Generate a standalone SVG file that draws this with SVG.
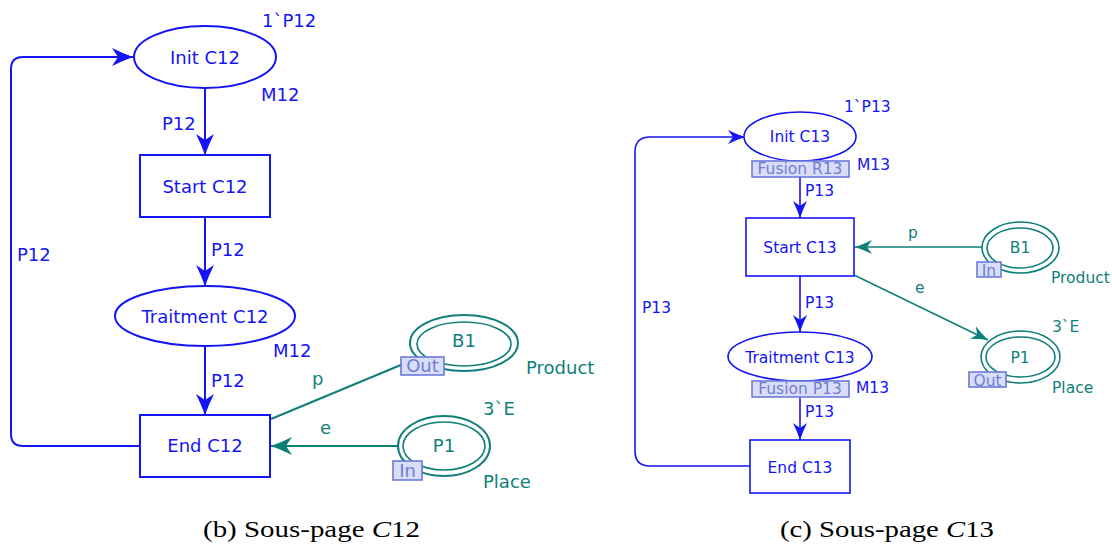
<svg xmlns="http://www.w3.org/2000/svg" width="1112" height="545" viewBox="0 0 1112 545">
<style>
.b{fill:none;stroke:#1414f5;stroke-width:2}
.b2{fill:none;stroke:#1414f5;stroke-width:1.6}
.t{fill:none;stroke:#0f7f7a;stroke-width:2}
.t2{fill:none;stroke:#0f7f7a;stroke-width:1.5}
.bn{fill:#fff;stroke:#1414f5;stroke-width:2}
.bn2{fill:#fff;stroke:#1414f5;stroke-width:1.6}
.pl{fill:#fff;stroke:#0f7f7a;stroke-width:2}
.pl2{fill:none;stroke:#0f7f7a;stroke-width:1.6}
.tag{fill:#d9ddf8;stroke:#6b7bd9;stroke-width:1.6}
text{font-family:"DejaVu Sans",Verdana,sans-serif}
.L{font-size:18px}
.R{font-size:15.5px}
.bt{fill:#1414f5}
.tt{fill:#0f7f7a}
.gt{fill:#6f7fd6}
.m{text-anchor:middle}
.cap{font-family:"Liberation Serif","Times New Roman",serif;font-size:23.5px;fill:#000}
</style>
<defs>
<marker id="ab" markerUnits="userSpaceOnUse" markerWidth="22" markerHeight="20" viewBox="0 0 22 20" refX="21" refY="10" orient="auto">
<path d="M21,10 Q10,6 0,1 L6,10 L0,19 Q10,14 21,10 Z" fill="#1414f5"/>
</marker>
<marker id="ab2" markerUnits="userSpaceOnUse" markerWidth="18" markerHeight="16" viewBox="0 0 18 16" refX="17" refY="8" orient="auto">
<path d="M17,8 Q8,5 0,1 L5,8 L0,15 Q8,11 17,8 Z" fill="#1414f5"/>
</marker>
<marker id="at" markerUnits="userSpaceOnUse" markerWidth="22" markerHeight="20" viewBox="0 0 22 20" refX="21" refY="10" orient="auto">
<path d="M21,10 Q10,6 0,1 L6,10 L0,19 Q10,14 21,10 Z" fill="#0f7f7a"/>
</marker>
<marker id="at2" markerUnits="userSpaceOnUse" markerWidth="18" markerHeight="16" viewBox="0 0 18 16" refX="17" refY="8" orient="auto">
<path d="M17,8 Q8,5 0,1 L5,8 L0,15 Q8,11 17,8 Z" fill="#0f7f7a"/>
</marker>
</defs>

<g id="connectors">
<!-- left -->
<path class="b" d="M205,88 V155" marker-end="url(#ab)"/>
<path class="b" d="M205,217 V286" marker-end="url(#ab)"/>
<path class="b" d="M205,346 V415" marker-end="url(#ab)"/>
<path class="b" d="M140,446 H23 Q11,446 11,434 V69 Q11,57 23,57 H133" marker-end="url(#ab)"/>
<path class="t" d="M271,419 L408,362"/>
<path class="t" d="M398,446 L271,446" marker-end="url(#at)"/>
<text class="L bt" x="162" y="130">P12</text>
<text class="L bt" x="211" y="256">P12</text>
<text class="L bt" x="211" y="387">P12</text>
<text class="L bt" x="17" y="261">P12</text>
<text class="L tt" x="312" y="385">p</text>
<text class="L tt" x="320" y="434">e</text>
<!-- right -->
<path class="b2" d="M800,161 V218" marker-end="url(#ab2)"/>
<path class="b2" d="M800,276 V332" marker-end="url(#ab2)"/>
<path class="b2" d="M800,381 V440" marker-end="url(#ab2)"/>
<path class="b2" d="M750,466 H650 Q635,466 635,451 V152 Q635,137 650,137 H745" marker-end="url(#ab2)"/>
<path class="t2" d="M982,247 L855,247" marker-end="url(#at2)"/>
<path class="t2" d="M854,275 L988,340" marker-end="url(#at2)"/>
<text class="R bt" x="805" y="196">P13</text>
<text class="R bt" x="805" y="308">P13</text>
<text class="R bt" x="805" y="417">P13</text>
<text class="R bt" x="642" y="313">P13</text>
<text class="R tt" x="908" y="238">p</text>
<text class="R tt" x="915" y="293">e</text>
</g>

<!-- left nodes -->
<g id="initC12">
<ellipse class="bn" cx="205" cy="57" rx="71" ry="31"/>
<text class="L bt m" x="205" y="63.5">Init C12</text>
<text class="L bt" x="262" y="27">1`P12</text>
<text class="L bt" x="261" y="101">M12</text>
</g>
<g id="startC12">
<rect class="bn" x="140" y="155" width="130" height="62"/>
<text class="L bt m" x="205" y="193">Start C12</text>
</g>
<g id="traitC12">
<ellipse class="bn" cx="205" cy="316" rx="90" ry="30"/>
<text class="L bt m" x="205" y="323">Traitment C12</text>
<text class="L bt" x="273" y="357">M12</text>
</g>
<g id="endC12">
<rect class="bn" x="140" y="415" width="130" height="62"/>
<text class="L bt m" x="205" y="452">End C12</text>
</g>
<g id="B1left">
<ellipse class="pl" cx="464" cy="343" rx="54" ry="28"/>
<ellipse class="pl2" cx="464" cy="344" rx="47" ry="22"/>
<text class="L tt m" x="464" y="347">B1</text>
<rect class="tag" x="401" y="357" width="43" height="18"/>
<text class="L gt m" x="422.5" y="372">Out</text>
<text class="L tt" x="526" y="374">Product</text>
</g>
<g id="P1left">
<ellipse class="pl" cx="444" cy="446" rx="46" ry="30"/>
<ellipse class="pl2" cx="444" cy="446" rx="41" ry="24"/>
<text class="L tt m" x="444" y="452">P1</text>
<rect class="tag" x="393" y="461" width="29" height="19"/>
<text class="L gt m" x="407.5" y="477">In</text>
<text class="L tt" x="483" y="415">3`E</text>
<text class="L tt" x="483" y="488">Place</text>
</g>

<!-- right nodes -->
<g id="initC13">
<ellipse class="bn2" cx="800" cy="136.5" rx="56" ry="24.5"/>
<text class="R bt m" x="800" y="142">Init C13</text>
<text class="R bt" x="844" y="112">1`P13</text>
<rect class="tag" x="752" y="161" width="97" height="16"/>
<text class="R gt m" x="800" y="174">Fusion R13</text>
<text class="R bt" x="857" y="170">M13</text>
</g>
<g id="startC13">
<rect class="bn2" x="746" y="218" width="108" height="58"/>
<text class="R bt m" x="800" y="252.5">Start C13</text>
</g>
<g id="traitC13">
<ellipse class="bn2" cx="800" cy="356.5" rx="72" ry="24.5"/>
<text class="R bt m" x="800" y="362.5">Traitment C13</text>
<rect class="tag" x="752" y="381" width="97" height="16"/>
<text class="R gt m" x="800" y="394">Fusion P13</text>
<text class="R bt" x="856" y="393">M13</text>
</g>
<g id="endC13">
<rect class="bn2" x="750" y="440" width="100" height="53"/>
<text class="R bt m" x="800" y="473">End C13</text>
</g>
<g id="B1right">
<ellipse class="pl2" cx="1020.5" cy="247.5" rx="38.5" ry="25.5" style="fill:#fff"/>
<ellipse class="pl2" cx="1020" cy="248" rx="33" ry="20"/>
<text class="R tt m" x="1020" y="252.5">B1</text>
<rect class="tag" x="977" y="262" width="24" height="15"/>
<text class="R gt m" x="989" y="276">In</text>
<text class="R tt" x="1051" y="283">Product</text>
</g>
<g id="P1right">
<ellipse class="pl2" cx="1020.5" cy="357" rx="39.5" ry="26" style="fill:#fff"/>
<ellipse class="pl2" cx="1020.5" cy="357" rx="34.5" ry="20"/>
<text class="R tt m" x="1020" y="363">P1</text>
<rect class="tag" x="969" y="372" width="37" height="15"/>
<text class="R gt m" x="987.5" y="385.5">Out</text>
<text class="R tt" x="1052" y="332">3`E</text>
<text class="R tt" x="1052" y="393">Place</text>
</g>

<g id="captions">
<text class="cap" x="203" y="537" textLength="217" lengthAdjust="spacingAndGlyphs">(b) Sous-page <tspan font-style="italic">C</tspan>12</text>
<text class="cap" x="780" y="537" textLength="214" lengthAdjust="spacingAndGlyphs">(c) Sous-page <tspan font-style="italic">C</tspan>13</text>
</g>
</svg>
